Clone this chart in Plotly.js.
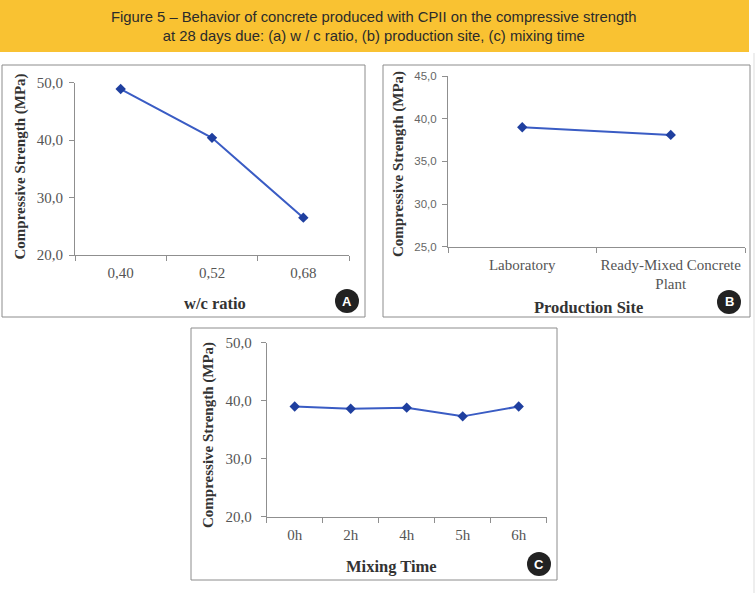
<!DOCTYPE html>
<html>
<head>
<meta charset="utf-8">
<script src="https://cdn.plot.ly/plotly-3.0.1.min.js"></script>
<style>
  html, body { margin: 0; padding: 0; background: #ffffff; }
  #chart { width: 756px; height: 593px; }
</style>
</head>
<body>
<div id="chart"></div>
<script>
// ---- Data ----
const wcRatio = ['0,40', '0,52', '0,68'];
const strengthWc = [48.9, 40.4, 26.5];

const productionSites = ['Laboratory', 'Ready-Mixed Concrete<br>Plant'];
const strengthSite = [39.0, 38.1];

const mixingTimes = ['0h', '2h', '4h', '5h', '6h'];
const strengthMix = [39.0, 38.6, 38.8, 37.3, 39.0];

const figureTitle = 'Figure 5 – Behavior of concrete produced with CPII on the compressive strength<br>at 28 days due: (a) w / c ratio, (b) production site, (c) mixing time';
const yTitle = 'Compressive Strength (MPa)';

// ---- Helpers (pixel -> paper) ----
const W = 756, H = 593;
const px = x => x / W;
const py = y => 1 - y / H;

const lineColor = '#3a5cc4';
const markerColor = '#1f3f9f';
const axisColor = '#8f8f8f';
const serif = 'Liberation Serif, Times New Roman, serif';
const sans = 'Liberation Sans, Arial, sans-serif';

function trace(x, y, xa, ya) {
  return {
    x: x, y: y, xaxis: xa, yaxis: ya, type: 'scatter', mode: 'lines+markers',
    line: { color: lineColor, width: 2 },
    marker: { symbol: 'diamond', size: 8, color: markerColor },
    hoverinfo: 'skip', cliponaxis: false
  };
}

function xAxis(domain, n, anchor, fontFamily) {
  return {
    domain: domain, anchor: anchor, type: 'category', range: [-0.5, n - 0.5],
    tickson: 'boundaries', ticks: 'outside', ticklen: 5, tickcolor: axisColor,
    showline: true, linecolor: axisColor, linewidth: 1, showgrid: false, zeroline: false,
    tickangle: 0,
    tickfont: { family: fontFamily, size: 15, color: '#555555' }, ticklabelstandoff: 4,
    fixedrange: true
  };
}

function yAxis(domain, range, dtick, anchor, font, standoff) {
  return {
    domain: domain, anchor: anchor, range: range, dtick: dtick, tick0: range[0],
    tickformat: '.1f', ticks: 'outside', ticklen: 5, tickcolor: axisColor,
    showline: true, linecolor: axisColor, linewidth: 1, showgrid: false, zeroline: false,
    tickfont: font, ticklabelstandoff: standoff, fixedrange: true
  };
}

const data = [
  trace(wcRatio, strengthWc, 'x', 'y'),
  trace(productionSites, strengthSite, 'x2', 'y2'),
  trace(mixingTimes, strengthMix, 'x3', 'y3')
];

const serifTick = { family: serif, size: 15, color: '#555555' };
const sansTick = { family: sans, size: 11.5, color: '#666666' };

const layout = {
  width: W, height: H,
  margin: { l: 0, r: 0, t: 0, b: 0, pad: 0 },
  paper_bgcolor: '#ffffff', plot_bgcolor: 'rgba(0,0,0,0)',
  showlegend: false, hovermode: false,
  separators: ',.',
  xaxis: xAxis([px(75), px(349)], 3, 'y', serif),
  yaxis: yAxis([py(255), py(82.7)], [20, 50], 10, 'x', serifTick, 3),
  xaxis2: xAxis([px(448), px(745)], 2, 'y2', serif),
  yaxis2: yAxis([py(246.7), py(76)], [25, 45], 5, 'x2', sansTick, 3),
  xaxis3: xAxis([px(266.7), px(546.7)], 5, 'y3', serif),
  yaxis3: yAxis([py(516.7), py(342.7)], [20, 50], 10, 'x3', serifTick, 6),
  shapes: [
    { type: 'rect', xref: 'paper', yref: 'paper', x0: 0, x1: px(749), y0: py(52), y1: 1,
      fillcolor: '#F9C232', line: { width: 0 }, layer: 'below' },
    { type: 'line', xref: 'paper', yref: 'paper', x0: px(754), x1: px(754), y0: py(53), y1: 0,
      line: { color: '#dddddd', width: 1 }, layer: 'below' },
    { type: 'rect', xref: 'paper', yref: 'paper', x0: px(2), x1: px(365), y0: py(317), y1: py(65),
      line: { color: '#8c8c8c', width: 1 }, layer: 'below' },
    { type: 'rect', xref: 'paper', yref: 'paper', x0: px(383), x1: px(750), y0: py(317), y1: py(65),
      line: { color: '#8c8c8c', width: 1 }, layer: 'below' },
    { type: 'rect', xref: 'paper', yref: 'paper', x0: px(191), x1: px(557), y0: py(580), y1: py(328),
      line: { color: '#8c8c8c', width: 1 }, layer: 'below' },
    // badges
    { type: 'circle', xref: 'paper', yref: 'paper', x0: px(335), x1: px(359), y0: py(313), y1: py(289),
      fillcolor: '#222222', line: { width: 0 } },
    { type: 'circle', xref: 'paper', yref: 'paper', x0: px(717), x1: px(741), y0: py(314), y1: py(290),
      fillcolor: '#222222', line: { width: 0 } },
    { type: 'circle', xref: 'paper', yref: 'paper', x0: px(527), x1: px(551), y0: py(576), y1: py(552),
      fillcolor: '#222222', line: { width: 0 } }
  ],
  annotations: [
    { text: figureTitle, xref: 'paper', yref: 'paper', x: px(374), y: py(27),
      xanchor: 'center', yanchor: 'middle', showarrow: false,
      font: { family: sans, size: 14.8, color: '#2b2b2b' } },
    // y-axis titles
    { text: yTitle, xref: 'paper', yref: 'paper', x: px(20), y: py(166.5), textangle: -90,
      xanchor: 'center', yanchor: 'middle', showarrow: false,
      font: { family: serif, size: 15, color: '#333333', weight: 'bold' } },
    { text: yTitle, xref: 'paper', yref: 'paper', x: px(398), y: py(164), textangle: -90,
      xanchor: 'center', yanchor: 'middle', showarrow: false,
      font: { family: serif, size: 15, color: '#333333', weight: 'bold' } },
    { text: yTitle, xref: 'paper', yref: 'paper', x: px(208), y: py(435), textangle: -90,
      xanchor: 'center', yanchor: 'middle', showarrow: false,
      font: { family: serif, size: 15, color: '#333333', weight: 'bold' } },
    // x-axis titles
    { text: 'w/c ratio', xref: 'paper', yref: 'paper', x: px(215), y: py(303),
      xanchor: 'center', yanchor: 'middle', showarrow: false,
      font: { family: serif, size: 16.5, color: '#333333', weight: 'bold' } },
    { text: 'Production Site', xref: 'paper', yref: 'paper', x: px(588), y: py(307),
      xanchor: 'center', yanchor: 'middle', showarrow: false,
      font: { family: serif, size: 16.5, color: '#333333', weight: 'bold' } },
    { text: 'Mixing Time', xref: 'paper', yref: 'paper', x: px(391), y: py(566),
      xanchor: 'center', yanchor: 'middle', showarrow: false,
      font: { family: serif, size: 16.5, color: '#333333', weight: 'bold' } },
    // badge letters
    { text: 'A', xref: 'paper', yref: 'paper', x: px(347), y: py(301),
      xanchor: 'center', yanchor: 'middle', showarrow: false,
      font: { family: sans, size: 13, color: '#ffffff', weight: 'bold' } },
    { text: 'B', xref: 'paper', yref: 'paper', x: px(729), y: py(302),
      xanchor: 'center', yanchor: 'middle', showarrow: false,
      font: { family: sans, size: 13, color: '#ffffff', weight: 'bold' } },
    { text: 'C', xref: 'paper', yref: 'paper', x: px(539), y: py(564),
      xanchor: 'center', yanchor: 'middle', showarrow: false,
      font: { family: sans, size: 13, color: '#ffffff', weight: 'bold' } }
  ]
};

Plotly.newPlot('chart', data, layout, { displayModeBar: false, staticPlot: true });
</script>
</body>
</html>
